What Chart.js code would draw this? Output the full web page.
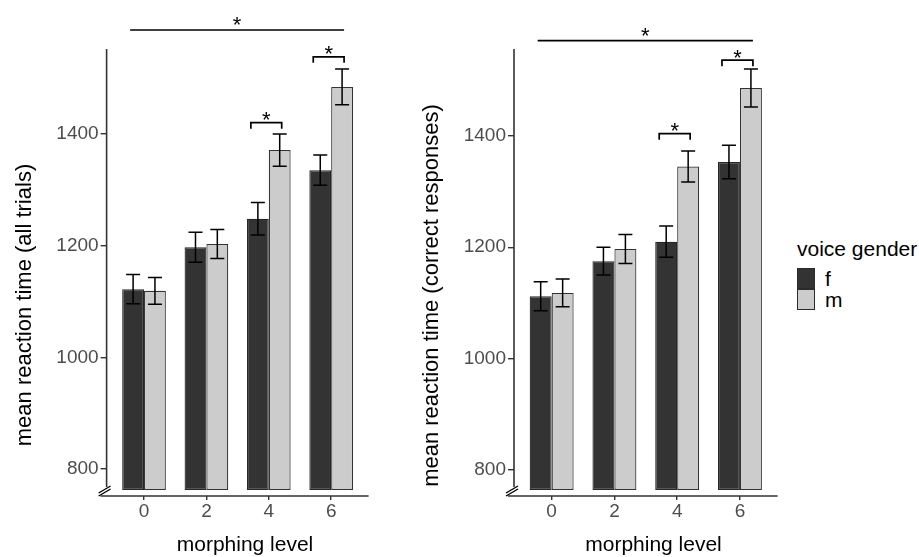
<!DOCTYPE html>
<html>
<head>
<meta charset="utf-8">
<script src="https://cdn.jsdelivr.net/npm/chart.js@4.4.1/dist/chart.umd.min.js"></script>
<style>
  body { margin: 0; background: #fff; font-family: "Liberation Sans", Arial, sans-serif; }
  #wrap { position: relative; width: 919px; height: 557px; overflow: hidden; }
  #left { position: absolute; left: 0; top: 0; }
  #right { position: absolute; left: 400px; top: 0; }
  .lg { position: absolute; font-size: 21px; line-height: 24px; color: #000; white-space: nowrap; }
  .key { position: absolute; left: 797px; width: 16px; height: 19px; border: 1px solid #2b2b2b; }
</style>
</head>
<body>
<div id="wrap">
  <canvas id="left" width="400" height="557"></canvas>
  <canvas id="right" width="390" height="557"></canvas>
  <div class="lg" style="left:797px; top:237px;">voice gender</div>
  <div class="key" style="top:268px; background:#333333;"></div>
  <div class="key" style="top:289px; background:#cccccc;"></div>
  <div class="lg" style="left:825px; top:267px;">f</div>
  <div class="lg" style="left:825px; top:288px;">m</div>
</div>
<script>
// morphing levels on the x axis
const levels = ['0', '2', '4', '6'];
const yTicks = [800, 1000, 1200, 1400];

// all trials
const allF = [1122, 1197, 1248, 1335];
const allFErr = [26, 27, 29, 27];
const allM = [1119, 1203, 1371, 1484];
const allMErr = [24, 26, 29, 32];
// significance brackets (y in ms): overall 0 vs 6, f vs m at 4 and 6
const allTopY = 1586;
const allPairY = [null, null, 1420, 1538];

// correct responses
const corF = [1112, 1175, 1210, 1353];
const corFErr = [26, 25, 28, 30];
const corM = [1118, 1197, 1345, 1486];
const corMErr = [25, 26, 28, 34];
const corTopY = 1571;
const corPairY = [null, null, 1404, 1536];

const FONT = '"Liberation Sans", Arial, sans-serif';
const AXIS = '#333333';

function makeChart(id, f, fErr, m, mErr, topY, pairY, cfg) {
    const extras = {
        id: 'extras',
        afterDatasetsDraw(chart) {
            const ctx = chart.ctx, ca = chart.chartArea, y = chart.scales.y;
            const fb = chart.getDatasetMeta(0).data, mb = chart.getDatasetMeta(1).data;
            ctx.save();
            // error bars
            ctx.strokeStyle = '#000';
            ctx.lineWidth = 1.5;
            [[fb, f, fErr], [mb, m, mErr]].forEach(function (s) {
                s[0].forEach(function (b, i) {
                    const hi = y.getPixelForValue(s[1][i] + s[2][i]);
                    const lo = y.getPixelForValue(s[1][i] - s[2][i]);
                    ctx.beginPath();
                    ctx.moveTo(b.x, hi); ctx.lineTo(b.x, lo);
                    ctx.moveTo(b.x - 7, hi); ctx.lineTo(b.x + 7, hi);
                    ctx.moveTo(b.x - 7, lo); ctx.lineTo(b.x + 7, lo);
                    ctx.stroke();
                });
            });
            // brackets + asterisks
            ctx.fillStyle = '#000';
            ctx.font = '22px ' + FONT;
            ctx.textAlign = 'center';
            ctx.textBaseline = 'alphabetic';
            ctx.lineWidth = 1.7;
            const n = levels.length - 1;
            let py = y.getPixelForValue(topY);
            let x1 = fb[0].x - 3, x2 = mb[n].x + 2;
            ctx.beginPath();
            ctx.moveTo(x1, py); ctx.lineTo(x2, py);
            ctx.stroke();
            ctx.fillText('*', (x1 + x2) / 2, py + 2);
            pairY.forEach(function (v, i) {
                if (v === null) return;
                const p = y.getPixelForValue(v);
                const a = fb[i].x - 7, b = mb[i].x + 2;
                ctx.beginPath();
                ctx.moveTo(a, p + 6); ctx.lineTo(a, p); ctx.lineTo(b, p); ctx.lineTo(b, p + 6);
                ctx.stroke();
                ctx.fillText('*', (a + b) / 2, p + 4.5);
            });
            // axis lines and break mark
            ctx.strokeStyle = AXIS;
            ctx.lineWidth = 1.6;
            ctx.beginPath();
            ctx.moveTo(ca.left, ca.top); ctx.lineTo(ca.left, ca.bottom - 9);
            ctx.moveTo(ca.left - 6, ca.bottom); ctx.lineTo(ca.right, ca.bottom);
            ctx.stroke();
            ctx.strokeStyle = '#000';
            ctx.lineWidth = 1.4;
            ctx.beginPath();
            ctx.moveTo(ca.left - 8, ca.bottom - 3); ctx.lineTo(ca.left + 4, ca.bottom - 10);
            ctx.moveTo(ca.left - 8, ca.bottom); ctx.lineTo(ca.left + 4, ca.bottom - 7);
            ctx.stroke();
            // axis titles
            ctx.fillStyle = '#000';
            ctx.textBaseline = 'middle';
            ctx.font = '21px ' + FONT;
            ctx.fillText('morphing level', cfg.xtX, cfg.xtY);
            ctx.translate(cfg.ytX, cfg.ytY);
            ctx.rotate(-Math.PI / 2);
            ctx.font = '22px ' + FONT;
            ctx.fillText(cfg.yTitle, 0, 0);
            ctx.restore();
        }
    };

    return new Chart(document.getElementById(id).getContext('2d'), {
        type: 'bar',
        data: {
            datasets: [{
                label: 'f',
                data: f.map((v, i) => ({ x: i, y: v })),
                backgroundColor: '#333333',
                borderColor: '#262626',
                borderWidth: 1.2,
                borderSkipped: false,
                base: cfg.base
            }, {
                label: 'm',
                data: m.map((v, i) => ({ x: i, y: v })),
                backgroundColor: '#cccccc',
                borderColor: '#333333',
                borderWidth: 1.2,
                borderSkipped: false,
                base: cfg.base
            }]
        },
        options: {
            responsive: false,
            animation: false,
            categoryPercentage: 0.7,
            barPercentage: 1.0,
            layout: { padding: { top: 49, right: cfg.padRight, bottom: 0, left: 0 } },
            plugins: { legend: { display: false }, tooltip: { enabled: false } },
            scales: {
                x: {
                    type: 'linear',
                    offset: false,
                    min: -0.6,
                    max: levels.length - 0.4,
                    afterBuildTicks: s => { s.ticks = levels.map((l, i) => ({ value: i })); },
                    afterFit: s => { s.height = 61; },
                    grid: { offset: false, drawOnChartArea: false, drawTicks: true, tickLength: 4, color: AXIS, lineWidth: 1.4 },
                    border: { display: false },
                    ticks: {
                        padding: 0,
                        color: '#4d4d4d',
                        font: { family: FONT, size: 19 },
                        callback: v => levels[v]
                    }
                },
                y: {
                    min: cfg.yMin,
                    max: cfg.yMax,
                    afterBuildTicks: s => { s.ticks = yTicks.map(v => ({ value: v })); },
                    afterFit: s => { s.width = cfg.left; },
                    grid: { drawOnChartArea: false, drawTicks: true, tickLength: 6, color: AXIS, lineWidth: 1.4 },
                    border: { display: false },
                    ticks: {
                        padding: 2,
                        color: '#4d4d4d',
                        font: { family: FONT, size: 19 },
                        callback: v => String(v)
                    }
                }
            }
        },
        plugins: [extras]
    });
}

makeChart('left', allF, allFErr, allM, allMErr, allTopY, allPairY, {
    yMin: 751.6, yMax: 1552, base: 762.4, left: 106.6, padRight: 31.4,
    yTitle: 'mean reaction time (all trials)', ytX: 25, ytY: 305, xtX: 245, xtY: 545
});
makeChart('right', corF, corFErr, corM, corMErr, corTopY, corPairY, {
    yMin: 753.3, yMax: 1556, base: 764, left: 114, padRight: 12.4,
    yTitle: 'mean reaction time (correct responses)', ytX: 32, ytY: 295.5, xtX: 253.5, xtY: 545
});
</script>
</body>
</html>
